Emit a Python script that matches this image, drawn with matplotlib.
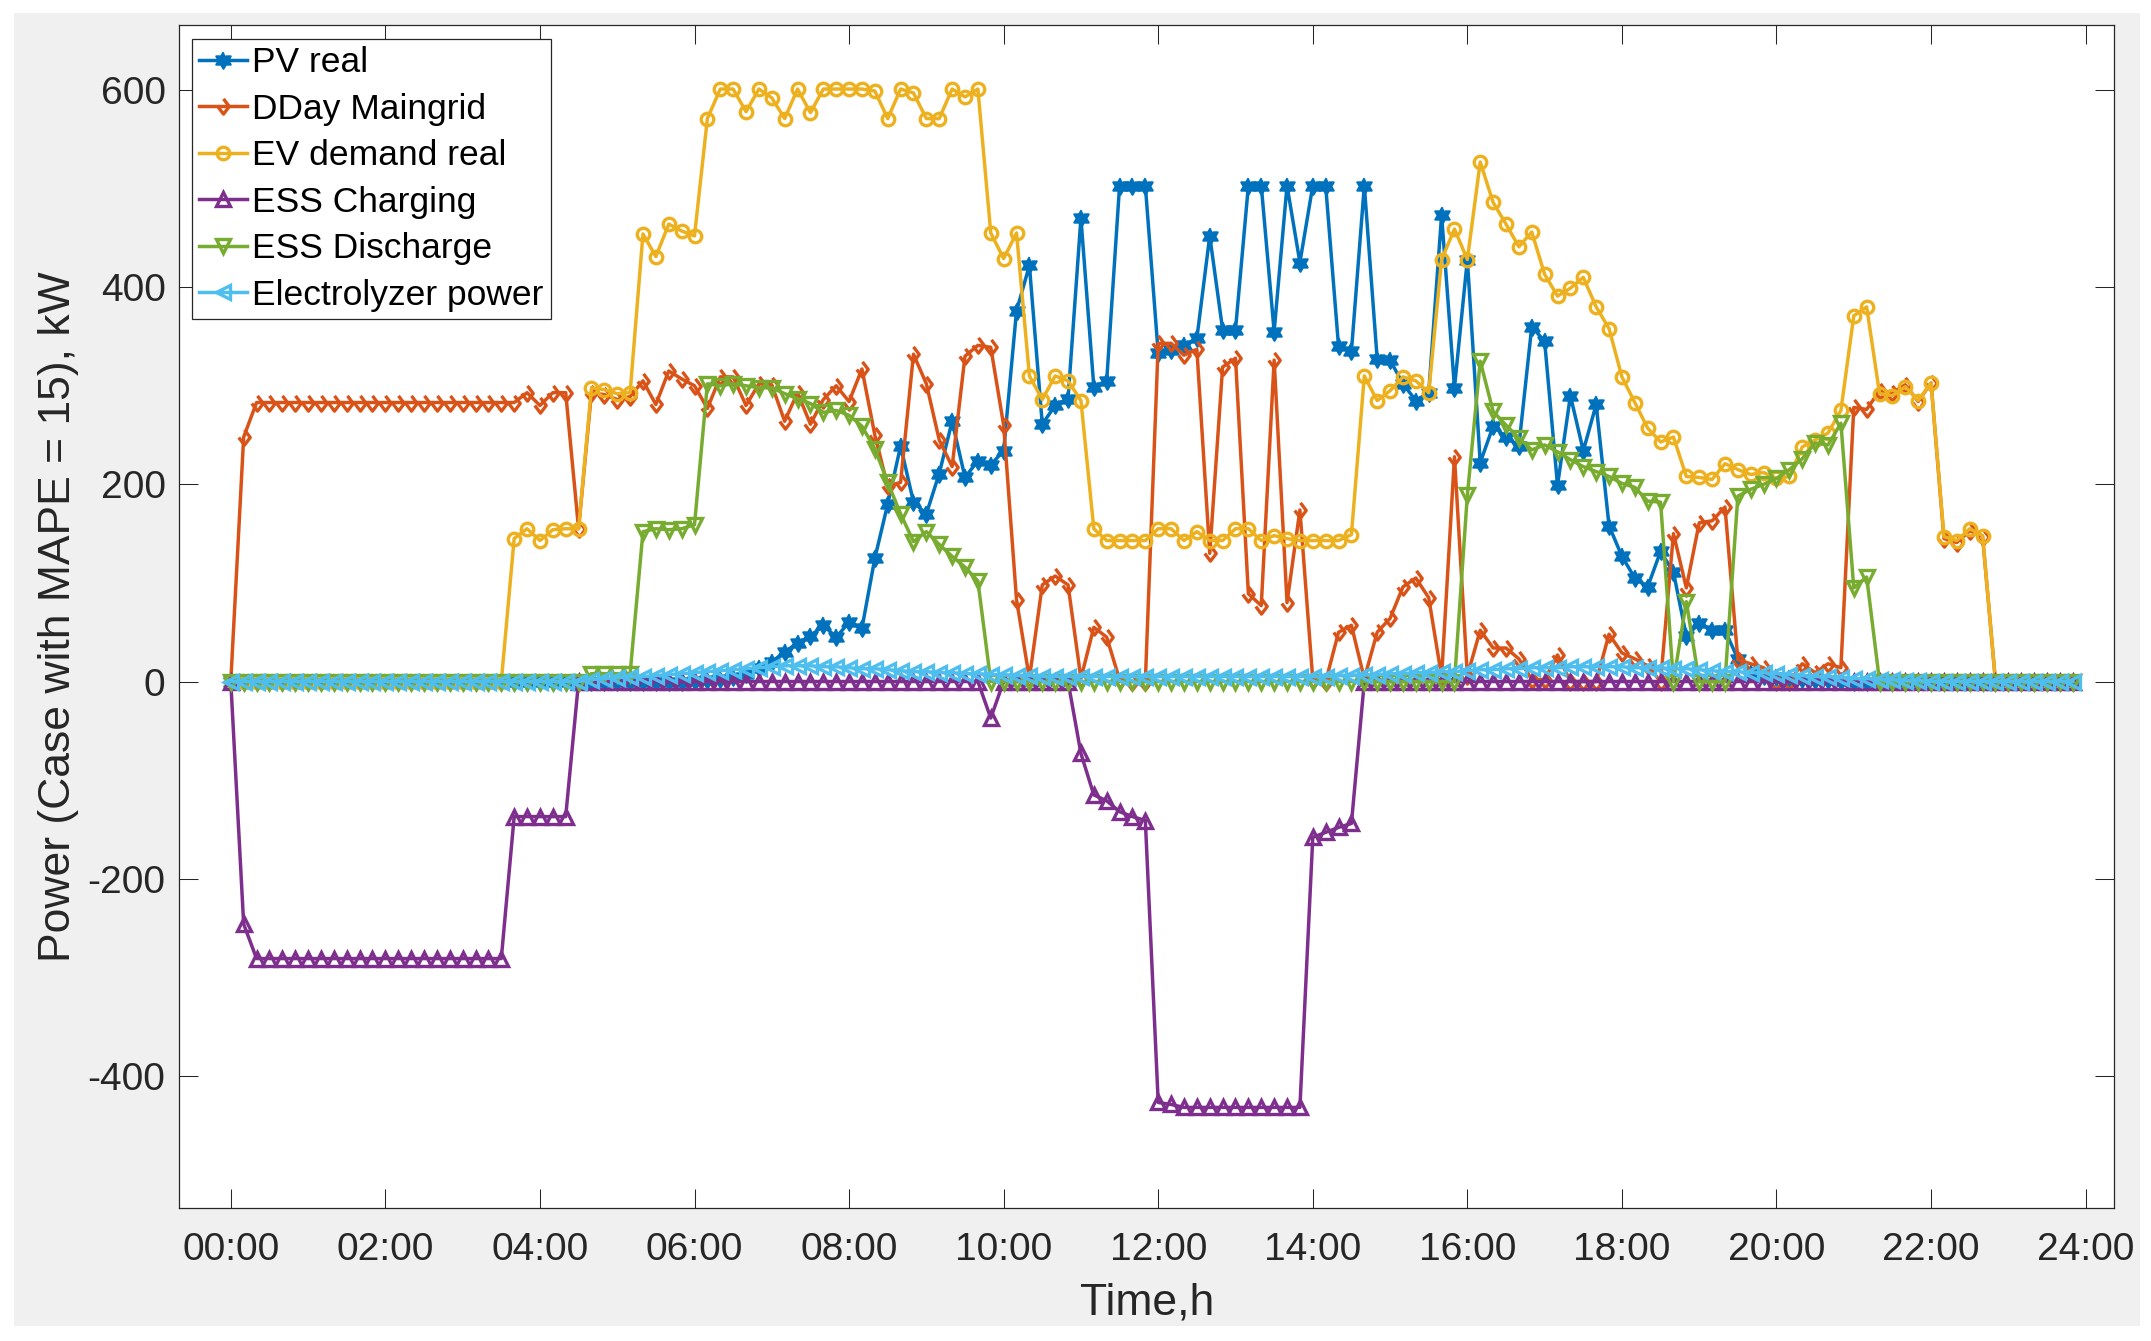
import numpy as np
import matplotlib
matplotlib.use("Agg")
import matplotlib.pyplot as plt
from matplotlib.patches import Rectangle

plt.rcParams['font.family'] = ['Liberation Sans', 'DejaVu Sans']
plt.rcParams['axes.unicode_minus'] = False

# 10-minute steps over one day (hours)
t = np.arange(144) / 6.0

pv_real = [0] * 36 + [
    1, 2, 3, 5, 8, 14, 20, 30, 39, 46, 57, 45, 60, 54, 125, 180, 239, 182, 170, 211,
    264, 207, 224, 220, 234, 376, 422, 261, 280, 287, 470, 299, 305, 503, 503, 503, 333, 336, 341, 348,
    452, 357, 357, 503, 503, 355, 503, 425, 503, 503, 340, 335, 503, 327, 326, 302, 285, 293, 473, 298,
    428, 222, 259, 248, 239, 360, 345, 199, 290, 234, 281, 158, 127, 105, 96, 132, 111, 46, 59, 52,
    52, 23, 9, 6, 5, 4, 3, 2, 2, 1] + [0] * 18

dday_maingrid = [0, 248] + [283] * 21 + [
    293, 280, 293, 293, 155, 293, 291, 286, 289, 305, 281, 315, 307, 300, 277, 309, 309, 280, 302, 301,
    264, 293, 261, 286, 300, 284, 317, 250, 198, 202, 332, 302, 245, 218, 330, 341, 339, 260, 83, 3,
    98, 107, 98, 3, 55, 45, 2, 0, 0, 343, 343, 331, 337, 130, 319, 328, 89, 77, 326, 80,
    174, 2, 0, 50, 57, 3, 50, 64, 96, 105, 85, 5, 228, 6, 52, 34, 34, 23, 2, 2,
    27, 0, 0, 0, 48, 29, 23, 16, 0, 150, 95, 161, 163, 177, 22, 18, 14, 0, 0, 18,
    9, 18, 14, 278, 276, 295, 293, 301, 284, 303, 145, 141, 153, 147] + [0] * 7

ev_demand = [0] * 22 + [
    145, 155, 143, 154, 155, 155, 298, 296, 292, 293, 454, 431, 464, 457, 452, 571, 601, 601, 578, 601,
    592, 571, 601, 577, 601, 601, 601, 601, 599, 571, 601, 597, 571, 571, 601, 593, 601, 455, 429, 455,
    310, 286, 310, 305, 285, 155, 143, 143, 143, 143, 155, 155, 143, 152, 143, 143, 155, 155, 143, 148,
    145, 143, 143, 143, 143, 149, 310, 285, 295, 309, 305, 293, 428, 459, 428, 527, 486, 464, 441, 456,
    413, 391, 399, 410, 380, 358, 309, 283, 257, 243, 248, 208, 207, 205, 221, 215, 210, 212, 206, 208,
    238, 245, 252, 275, 371, 380, 292, 290, 299, 285, 303, 147, 143, 155, 148] + [0] * 7

ess_charging = ([0, -246] + [-281] * 20 + [-137] * 5 + [0] * 32 + [-37] + [0] * 6
                + [-73, -115, -121, -132, -137, -141, -427, -429] + [-432] * 10
                + [-158, -153, -148, -144] + [0] * 56)

ess_discharge = [0] * 28 + [8] * 4 + [
    152, 155, 154, 155, 159, 302, 300, 302, 300, 298, 298, 292, 287, 282, 273, 275, 270, 259, 236, 202,
    170, 142, 152, 139, 127, 116, 102] + [0] * 37 + [
    189, 325, 274, 260, 247, 235, 240, 233, 225, 218, 213, 208, 201, 197, 183, 182, 0, 81, 0, 0,
    0, 188, 195, 200, 206, 215, 226, 242, 240, 262, 95, 106] + [0] * 16

electrolyzer = [0] * 28 + [
    2, 3, 4, 5, 5, 6, 7, 8, 9, 10, 11, 12, 13, 14, 15, 16, 16, 16, 15, 15,
    14, 13, 13, 12, 11, 10, 10, 9, 9, 8, 8, 7, 7, 6, 6, 5] + [5] * 22 + [
    6, 6, 7, 7, 8, 8, 9, 9, 10, 10, 11, 12, 12, 13, 13, 14, 14, 14, 15, 15,
    15, 15, 15, 14, 14, 14, 13, 13, 12, 11, 10, 10, 9, 9, 8, 7, 6, 5, 5, 4,
    3, 3, 2, 2, 1, 1] + [0] * 12

labels = ['PV real', 'DDay Maingrid', 'EV demand real', 'ESS Charging',
          'ESS Discharge', 'Electrolyzer power']
colors = ['#0072BD', '#D95319', '#EDB120', '#7E2F8E', '#77AC30', '#4DBEEE']

# six-pointed star (MATLAB hexagram) and MATLAB-like diamond
ang = np.pi / 2 + np.arange(12) * np.pi / 6
rad = np.where(np.arange(12) % 2 == 0, 1.0, 0.577)
hexagram = list(zip(rad * np.cos(ang), rad * np.sin(ang)))
diamond = [(0, 1), (0.75, 0), (0, -1), (-0.75, 0)]

fig = plt.figure(figsize=(21.51, 13.41), dpi=100)
fig.patches.append(Rectangle((0.0065, 0.0112), 0.9884, 0.9791, transform=fig.transFigure,
                             facecolor='#f0f0f0', edgecolor='none', zorder=-10))
ax = fig.add_axes([0.0834, 0.0992, 0.8994, 0.8822])

series = [pv_real, dday_maingrid, ev_demand, ess_charging, ess_discharge, electrolyzer]
markers = [hexagram, diamond, 'o', '^', 'v', '<']
msizes = [12, 11, 9, 10.5, 10.5, 9.5]
for y, lab, c, m, ms in zip(series, labels, colors, markers, msizes):
    if m is hexagram:
        ax.plot(t, y, color=c, lw=2.5, marker=m, ms=ms, mfc=c, mec=c, mew=1.5, label=lab)
    else:
        ax.plot(t, y, color=c, lw=2.5, marker=m, ms=ms, mfc='none', mec=c, mew=2.4, label=lab)

ax.set_xlim(-0.665, 24.367)
ax.set_ylim(-534, 666)
ax.set_xticks(np.arange(0, 25, 2))
ax.set_xticklabels(['%02d:00' % h for h in range(0, 25, 2)])
ax.set_yticks([-400, -200, 0, 200, 400, 600])
ax.tick_params(direction='in', length=13.7, width=0.75, top=True, right=True,
               labelsize=28, colors='#262626')
ax.tick_params(axis='x', pad=17)
ax.tick_params(axis='y', pad=10)
for s in ax.spines.values():
    s.set_color('#262626')
    s.set_linewidth(0.9)

ax.set_xlabel('Time,h', fontsize=32, color='#262626', labelpad=11)
ax.set_ylabel('Power (Case with MAPE = 15), kW', fontsize=32, color='#262626', labelpad=6)

leg = ax.legend(loc='upper left', bbox_to_anchor=(0.0065, 0.988), borderaxespad=0,
                fontsize=25.5, handlelength=1.35, handletextpad=0.15, labelspacing=0.38,
                borderpad=0.2, fancybox=False, framealpha=1)
leg.get_frame().set_edgecolor('#262626')
leg.get_frame().set_linewidth(0.9)

fig.savefig('out.png', dpi=100, facecolor='white')
